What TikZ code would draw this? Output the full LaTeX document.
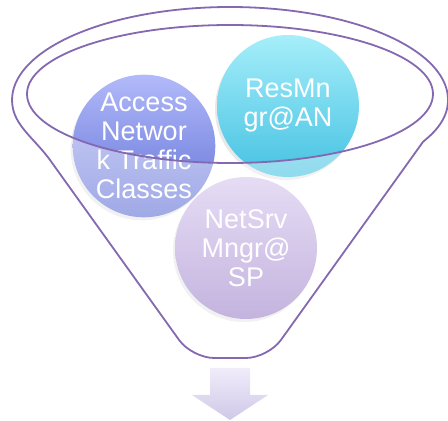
\documentclass[tikz,border=0pt]{standalone}
\usepackage{fontspec}
\setmainfont{Liberation Sans}
\usepackage{tikz}
\usetikzlibrary{shadows}
\definecolor{rim}{RGB}{132,104,176}
\definecolor{acctop}{RGB}{178,186,250}
\definecolor{accbot}{RGB}{96,112,212}
\definecolor{restop}{RGB}{166,238,250}
\definecolor{resbot}{RGB}{70,194,226}
\definecolor{nettop}{RGB}{214,198,238}
\definecolor{netbot}{RGB}{156,130,202}
\definecolor{arrtop}{RGB}{240,236,250}
\definecolor{arrbot}{RGB}{208,200,232}
\tikzstyle{bubble} = [circle, minimum size=142pt, inner sep=0pt, align=center, text=white, font=\fontsize{27}{29}\selectfont, drop shadow={shadow xshift=-2pt, shadow yshift=-3pt, opacity=0.18}]
\tikzstyle{rimline} = [draw=rim, line width=1.8pt, fill=white, fill opacity=0.4, even odd rule]

\begin{document}
\begin{tikzpicture}[x=1pt, y=1pt]
	\useasboundingbox (0,0) rectangle (448,421);
	\node (access) [bubble, top color=acctop, bottom color=accbot] at (144,275) {Access\\Networ\\k Traffic\\Classes};
	\node (resmngr) [bubble, top color=restop, bottom color=resbot] at (288,315) {ResMn\\gr@AN};
	\node (netsrv) [bubble, top color=nettop, bottom color=netbot] at (246,173) {NetSrv\\Mngr@\\SP};
	\path [rimline] (50,261) [rounded corners=22pt] -- (192,63) -- (268,63) -- (410,261) [sharp corners]
		.. controls (424.2,280.8) and (443.2,293.4) .. (447.2,312.9)
		arc[start angle=-5, end angle=185, x radius=218, y radius=93]
		.. controls (16.8,293.4) and (35.8,280.8) .. (50,261)
		(230,327) ellipse [x radius=203, y radius=69];
	\shade [top color=arrtop, bottom color=arrbot] (210,53) -- (250,53) -- (250,26) -- (268,26) -- (230,1) -- (192,26) -- (210,26) -- cycle;
\end{tikzpicture}
\end{document}
